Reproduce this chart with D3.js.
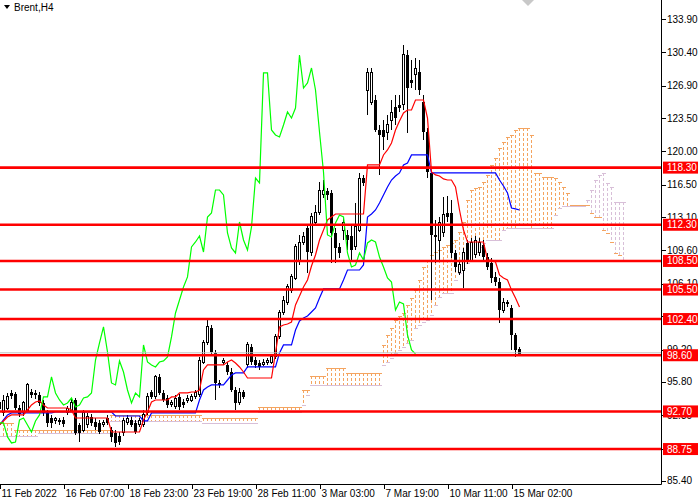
<!DOCTYPE html>
<html><head><meta charset="utf-8">
<script src="https://cdn.jsdelivr.net/npm/d3@7"></script>
<style>body{margin:0;background:#fff;} svg{display:block;font-family:"Liberation Sans",Arial,sans-serif;}</style>
</head><body><svg id="c" width="700" height="500"></svg>
<script>
// ---- Data (Brent, H4) ----
const opens = [93.06,92.54,93.06,94.64,94.53,93.06,92.54,92.85,94.74,94.64,
94.43,93.59,92.54,92.01,91.80,91.80,91.80,92.54,92.85,93.90,
91.28,90.75,91.28,92.12,91.59,91.49,91.38,92.01,90.75,90.44,
90.12,90.44,91.49,91.80,91.49,91.28,91.28,92.54,94.74,94.22,
96.32,94.64,94.11,93.48,93.17,94.22,93.69,93.90,93.90,94.22,
94.43,97.89,99.89,101.46,98.84,95.69,97.79,97.58,96.84,94.95,
93.59,94.74,97.58,99.47,98.10,97.79,97.68,97.79,97.89,98.42,
100.52,103.04,104.19,105.45,106.71,108.60,110.49,111.96,109.34,112.59,
113.54,115.43,115.85,115.64,111.44,109.97,111.75,111.23,111.12,109.97,
111.75,117.21,126.45,125.19,125.40,122.25,122.25,121.94,123.30,124.67,
124.88,124.88,130.13,127.50,128.03,128.34,125.19,122.04,117.74,111.23,
110.70,111.54,113.54,113.54,109.34,107.34,107.55,110.39,108.60,109.13,
109.34,110.18,108.92,108.29,106.82,106.29,103.35,104.19,103.56,100.73,99.25];
const highs = [94.11,94.43,94.64,94.95,94.74,93.38,93.80,95.69,95.06,94.95,
94.74,93.90,92.85,92.33,92.12,92.01,92.12,93.27,94.01,94.11,
91.49,92.85,92.54,92.43,92.01,91.80,91.80,92.33,91.07,90.75,
90.54,92.01,92.33,92.12,91.80,92.01,92.85,94.64,94.95,96.53,
96.63,94.95,94.43,93.90,94.43,94.53,94.01,94.43,94.53,94.95,
98.42,100.20,102.30,101.78,99.15,96.00,98.31,97.89,97.26,95.27,
95.16,94.95,99.99,99.78,98.42,98.10,98.21,98.31,98.73,100.83,
103.35,104.82,106.08,107.13,110.28,111.23,111.54,112.28,113.54,114.38,
116.79,117.00,116.16,115.95,111.96,110.39,113.01,111.75,112.28,114.59,
117.74,117.53,128.76,128.76,125.93,122.78,123.30,123.83,125.40,125.93,
125.93,131.20,130.65,129.60,129.81,129.60,125.93,122.46,118.05,112.80,
113.12,115.22,115.32,114.90,109.65,108.39,109.86,110.70,110.91,111.12,
110.91,110.70,109.34,108.81,107.34,106.71,104.61,104.40,103.88,100.94,99.47];
const lows = [92.64,92.22,92.85,94.01,92.85,92.12,92.22,92.64,94.11,94.01,
93.27,92.22,91.07,90.96,91.38,91.28,91.07,92.33,92.64,90.23,
89.49,90.54,90.96,91.17,90.75,90.33,91.07,91.28,89.49,88.97,
89.18,90.12,91.28,91.07,90.33,91.07,91.07,92.33,94.01,94.01,
94.43,93.69,93.06,93.17,92.96,92.85,93.06,93.59,93.69,94.01,
94.22,97.68,99.68,98.73,93.90,95.16,97.58,96.53,94.74,92.85,
93.38,94.01,97.26,97.58,97.26,97.05,97.47,97.58,97.68,98.21,
100.31,102.83,103.88,105.14,106.50,108.08,110.18,107.24,109.02,112.28,
113.33,115.11,114.90,108.29,108.29,108.81,110.70,109.65,108.60,109.65,
111.54,116.37,123.83,124.88,122.04,117.53,120.15,121.20,122.25,122.78,
124.14,124.35,121.94,126.66,126.45,125.93,121.20,117.21,104.40,108.29,
108.39,111.02,112.59,108.81,107.34,107.03,105.66,108.18,108.39,108.81,
109.02,108.39,107.55,106.19,105.87,101.99,103.04,103.67,99.15,98.42,98.52];
const closes = [93.69,93.90,94.22,94.32,93.06,92.43,93.59,95.48,94.43,94.43,
93.59,92.54,91.49,91.49,91.91,91.59,91.38,92.96,93.69,90.44,
90.44,92.54,92.12,91.49,91.07,90.54,91.49,91.49,90.02,89.39,
89.49,91.80,92.01,91.28,90.54,91.70,92.33,94.22,94.22,96.32,
94.64,93.90,93.38,93.59,94.11,93.17,93.38,94.11,94.22,94.64,
98.10,99.89,101.57,98.94,95.69,95.48,98.00,96.84,94.95,93.59,
94.64,94.22,99.68,97.89,97.58,97.37,97.89,98.00,98.42,100.52,
103.04,104.40,105.77,106.82,109.97,110.49,111.12,109.44,113.12,113.54,
115.95,115.95,115.43,111.44,109.86,109.34,112.59,110.70,109.65,112.07,
117.21,116.69,128.24,128.24,122.25,121.73,121.52,122.78,124.14,123.51,
124.56,130.13,126.66,127.19,128.76,126.45,122.04,117.84,111.23,111.02,
112.49,113.33,113.12,109.34,107.87,108.08,109.34,108.60,110.39,110.70,
110.49,108.92,107.87,106.71,106.29,103.35,104.19,103.98,100.73,99.15,98.75];

// Ichimoku lines (one value per bar)
const tenkan = [91.28,91.70,92.12,92.33,92.33,92.33,92.33,92.85,93.38,93.69,
93.80,93.38,93.06,93.06,93.06,93.06,93.06,93.06,92.85,92.01,
92.01,92.01,92.01,92.01,92.01,92.01,92.01,92.01,90.54,90.54,
90.54,90.54,90.54,90.54,90.54,90.54,91.80,92.64,93.69,93.90,
93.90,93.90,93.90,94.22,94.22,94.64,94.64,94.64,94.74,94.74,
94.95,97.05,97.58,97.58,97.58,97.58,97.58,97.89,98.10,97.79,
97.37,96.84,96.21,96.21,96.21,96.21,96.21,96.21,96.21,98.84,
101.57,101.78,101.88,102.09,103.88,104.82,105.77,106.50,107.97,109.13,
110.70,111.75,112.80,113.12,113.43,113.43,113.43,113.43,113.43,113.43,
113.43,113.43,118.58,118.58,118.58,118.58,119.63,120.15,120.89,122.25,
123.20,124.04,124.35,124.35,125.40,125.40,125.40,123.51,117.84,117.53,
117.42,117.11,117.00,117.00,116.27,113.85,111.75,110.49,110.49,110.49,
110.49,110.49,108.60,108.60,108.39,107.03,106.71,106.50,105.45,104.61,103.67];
const kijun = [91.28,91.80,92.33,92.54,92.54,92.54,92.54,92.54,92.54,92.54,
92.54,92.54,92.54,92.54,92.64,92.64,92.64,92.64,92.64,92.64,
92.64,92.64,92.64,92.64,92.64,92.64,92.64,92.64,92.64,92.22,
92.22,92.22,92.22,92.22,92.22,92.22,91.70,91.70,92.54,92.54,
92.54,92.54,92.54,92.54,92.54,92.54,92.54,92.54,92.54,92.54,
93.90,94.95,95.27,95.48,95.48,95.48,95.48,96.00,96.53,96.74,
96.74,96.74,97.37,97.37,97.37,97.37,97.37,97.37,97.37,97.37,
98.84,99.68,99.68,99.68,101.25,102.20,102.51,102.72,103.14,103.56,
104.61,105.56,105.56,105.56,105.56,105.56,106.50,107.55,107.55,107.55,
107.55,108.08,113.12,113.43,113.85,114.59,115.43,116.27,117.00,117.42,
117.74,118.58,118.79,119.63,119.63,119.63,119.63,119.63,117.74,117.74,
117.74,117.74,117.74,117.74,117.74,117.74,117.74,117.74,117.74,117.74,
117.74,117.74,117.74,117.74,117.74,117.00,116.37,115.64,114.06,113.96,113.85];
const senkouA = [91.49,91.49,91.49,91.49,90.75,90.75,90.75,90.75,90.75,90.75,
90.75,90.75,90.75,90.75,90.75,90.75,90.75,90.75,90.75,90.75,
90.75,90.75,90.75,90.75,90.75,90.75,90.75,90.75,92.33,92.33,
92.33,92.33,92.33,92.33,92.33,92.33,92.33,92.33,92.33,92.33,
92.33,92.33,92.33,92.33,92.33,92.33,92.33,92.33,92.33,92.33,
92.33,92.01,92.01,92.01,92.01,92.01,92.01,92.01,92.01,92.01,
92.01,92.01,92.01,92.01,92.01,93.17,93.17,93.17,93.17,93.17,
93.17,93.17,93.17,93.17,93.17,93.17,94.95,94.95,96.42,96.42,
96.42,96.42,97.26,97.26,97.26,97.26,97.26,96.74,96.74,96.74,
96.74,96.74,96.74,96.74,96.74,96.74,99.68,100.73,101.46,102.30,
102.72,103.04,103.88,104.61,105.45,106.50,107.87,108.60,109.13,109.44,
109.65,109.97,110.18,110.39,110.70,111.54,112.59,114.90,115.95,116.16,
116.27,116.79,117.53,118.58,119.31,120.36,120.99,121.52,121.73,122.25,
122.46,122.46,122.46,121.73,117.74,117.74,117.32,117.32,117.32,117.21,
116.79,116.27,115.64,114.38,114.38,114.38,114.38,114.38,113.54,113.12,
113.12,111.75,111.44,110.49,109.34,109.13,108.60];
const senkouB = [90.12,90.12,90.12,90.12,90.12,90.12,90.12,90.12,90.12,90.12,
90.44,90.44,90.44,90.44,90.44,90.44,90.44,90.44,90.44,90.44,
90.44,90.44,90.44,90.44,90.44,90.44,90.44,90.44,91.70,91.70,
91.70,91.70,91.70,91.70,91.70,91.70,91.70,91.70,91.70,91.70,
91.70,91.70,91.70,91.70,91.70,91.70,91.70,91.70,91.70,91.70,
91.70,91.49,91.49,91.49,91.49,91.49,91.49,91.49,91.49,91.49,
91.49,91.49,91.49,91.49,91.49,92.64,92.64,92.64,92.64,92.64,
92.64,92.64,92.64,92.64,92.64,92.64,93.38,94.43,95.48,95.48,
95.48,95.48,95.48,95.48,95.48,95.48,95.48,95.48,95.48,95.48,
95.48,95.48,95.48,95.48,95.48,95.48,97.58,97.89,98.31,98.84,
99.15,99.47,99.89,100.20,101.46,101.78,102.09,102.30,102.83,103.88,
104.71,105.14,105.14,105.14,106.50,107.24,107.76,108.29,108.60,109.44,
109.97,110.39,110.70,110.70,110.70,110.70,111.75,111.96,111.96,111.96,
111.96,111.96,111.96,111.96,111.96,111.96,111.96,111.96,111.96,113.33,
114.06,114.27,114.27,114.27,114.27,114.27,114.27,114.90,115.95,117.00,
117.53,117.74,116.69,116.27,114.69,114.69,114.69];
const chikouShift = 26;

const levels = [118.30,112.30,108.50,105.50,102.40,98.60,92.70,88.75];
const yTicks = [133.90,130.40,126.90,123.50,120.00,116.50,113.10,109.60,106.10,102.70,99.20,95.80,92.30,88.80,85.40];
const yTickHidden = [102.70,88.80];
const xTickBars = [0,16,32,48,64,80,96,112,128];
const xTickLabels = ["11 Feb 2022","16 Feb 07:00","18 Feb 23:00","23 Feb 19:00","28 Feb 11:00","3 Mar 03:00","7 Mar 19:00","10 Mar 11:00","15 Mar 02:00"];
const symbolTitle = "Brent,H4";

// ---- Layout ----
const plotR = 661, plotB = 484;
const BULL_CLOUD = "#f4a460", BEAR_CLOUD = "#d8bfd8";
const svg = d3.select("#c");
const x = d3.scaleLinear().domain([0,165]).range([-0.5,659.5]);
const y = d3.scaleLinear().domain([85.08,135.9]).range([plotB,0]);

svg.append("defs").append("clipPath").attr("id","clip")
  .append("rect").attr("x",0).attr("y",0).attr("width",plotR).attr("height",plotB);
const plot = svg.append("g").attr("clip-path","url(#clip)");

// Cloud hatching: dotted vertical stroke per bar between Senkou A and B
const dashes = [];
d3.range(senkouA.length).forEach(i=>{
  const a = senkouA[i], b = senkouB[i];
  const top = Math.round(y(Math.max(a,b))), bot = Math.round(y(Math.min(a,b)));
  const col = a>=b ? BULL_CLOUD : BEAR_CLOUD;
  for(let t=top; t<=bot; t+=5){
    dashes.push({i, y0:t, h:Math.min(3, bot-t+1), col});
  }
});
plot.append("g").attr("shape-rendering","crispEdges").selectAll("rect").data(dashes).join("rect")
  .attr("x",d=>Math.round(x(d.i)-0.5)).attr("width",1)
  .attr("y",d=>d.y0).attr("height",d=>d.h).attr("fill",d=>d.col);

// Senkou span boundaries (dotted)
const spanDots = (arr,col)=>{
  const pts=[];
  d3.range(arr.length).forEach(i=>{
    for(let k=0;k<4;k+=2){ pts.push({px:Math.round(x(i)-0.5)+k-1, py:Math.round(y(arr[i]))}); }
  });
  plot.append("g").attr("shape-rendering","crispEdges").selectAll("rect").data(pts).join("rect")
    .attr("x",d=>d.px).attr("y",d=>d.py).attr("width",1.5).attr("height",1).attr("fill",col);
};
spanDots(senkouB, BEAR_CLOUD);
spanDots(senkouA, BULL_CLOUD);

// Candles
const bars = d3.range(closes.length).map(i=>({i,o:opens[i],h:highs[i],l:lows[i],c:closes[i]}));
const cg = plot.append("g");
cg.selectAll("line").data(bars).join("line")
  .attr("x1",d=>x(d.i)).attr("x2",d=>x(d.i))
  .attr("y1",d=>y(d.h)).attr("y2",d=>y(d.l))
  .attr("stroke","#000").attr("stroke-width",1).attr("shape-rendering","crispEdges");
cg.selectAll("rect").data(bars).join("rect")
  .attr("x",d=>d.c>=d.o ? x(d.i)-1 : x(d.i)-1.5)
  .attr("width",d=>d.c>=d.o ? 2 : 3)
  .attr("y",d=>y(Math.max(d.o,d.c)))
  .attr("height",d=>Math.max(1,Math.abs(y(d.o)-y(d.c))))
  .attr("fill",d=>d.c>=d.o?"#fff":"#000")
  .attr("stroke",d=>d.c>=d.o?"#000":"none")
  .attr("stroke-width",1).attr("shape-rendering","crispEdges");

// Indicator lines
const solidGen = d3.line().x((d,i)=>x(i)).y(d=>y(d));
plot.append("path").attr("d",solidGen(kijun)).attr("fill","none").attr("stroke","#0000ff").attr("stroke-width",1.2);
plot.append("path").attr("d",solidGen(tenkan)).attr("fill","none").attr("stroke","#ff0000").attr("stroke-width",1.2);
const chikou = closes.slice(chikouShift);
plot.append("path").attr("d",solidGen(chikou)).attr("fill","none").attr("stroke","#00ff00").attr("stroke-width",1.2);

// Bid line
plot.append("line").attr("x1",0).attr("x2",plotR)
  .attr("y1",y(closes[closes.length-1])-1).attr("y2",y(closes[closes.length-1])-1)
  .attr("stroke","#c0c0c0").attr("stroke-width",1);

// Horizontal levels
plot.append("g").selectAll("line").data(levels).join("line")
  .attr("x1",0).attr("x2",plotR).attr("y1",d=>y(d)).attr("y2",d=>y(d))
  .attr("stroke","#ff0000").attr("stroke-width",2.6);

// Axes
const ax = svg.append("g");
ax.append("line").attr("x1",plotR+0.5).attr("x2",plotR+0.5).attr("y1",0).attr("y2",plotB+0.5)
  .attr("stroke","#000").attr("stroke-width",1);
ax.append("line").attr("x1",0).attr("x2",plotR+0.5).attr("y1",plotB+0.5).attr("y2",plotB+0.5)
  .attr("stroke","#000").attr("stroke-width",1);
ax.selectAll("line.yt").data(yTicks).join("line").attr("class","yt")
  .attr("x1",plotR).attr("x2",plotR+5).attr("y1",d=>Math.round(y(d))+0.5).attr("y2",d=>Math.round(y(d))+0.5)
  .attr("stroke","#000");
ax.selectAll("text.yl").data(yTicks.filter(v=>!yTickHidden.includes(v))).join("text").attr("class","yl")
  .attr("x",667).attr("y",d=>y(d)).attr("dy","0.35em")
  .attr("font-size",10).attr("fill","#000").text(d=>d.toFixed(2));
ax.selectAll("line.xt").data(xTickBars).join("line").attr("class","xt")
  .attr("x1",d=>Math.round(x(d))+0.5).attr("x2",d=>Math.round(x(d))+0.5)
  .attr("y1",plotB).attr("y2",plotB+5).attr("stroke","#000");
ax.selectAll("text.xl").data(xTickBars).join("text").attr("class","xl")
  .attr("x",d=>x(d)+2).attr("y",497)
  .attr("font-size",10).attr("fill","#000").text((d,i)=>xTickLabels[i]);

// Level labels
const lg = svg.append("g").selectAll("g").data(levels).join("g");
lg.append("rect").attr("x",663).attr("y",d=>y(d)-6).attr("width",35).attr("height",12).attr("fill","#ff0000");
lg.append("text").attr("x",667).attr("y",d=>y(d)).attr("dy","0.35em")
  .attr("font-size",10).attr("fill","#fff").text(d=>d.toFixed(2));

// Title and shift marker
svg.append("path").attr("d","M4,5L10,5L7,9Z").attr("fill","#000");
svg.append("text").attr("x",14).attr("y",11).attr("font-size",10).attr("fill","#000").text(symbolTitle);
svg.append("path").attr("d","M522,0L534,0L528,6Z").attr("fill","#c8c8c8");
</script></body></html>
